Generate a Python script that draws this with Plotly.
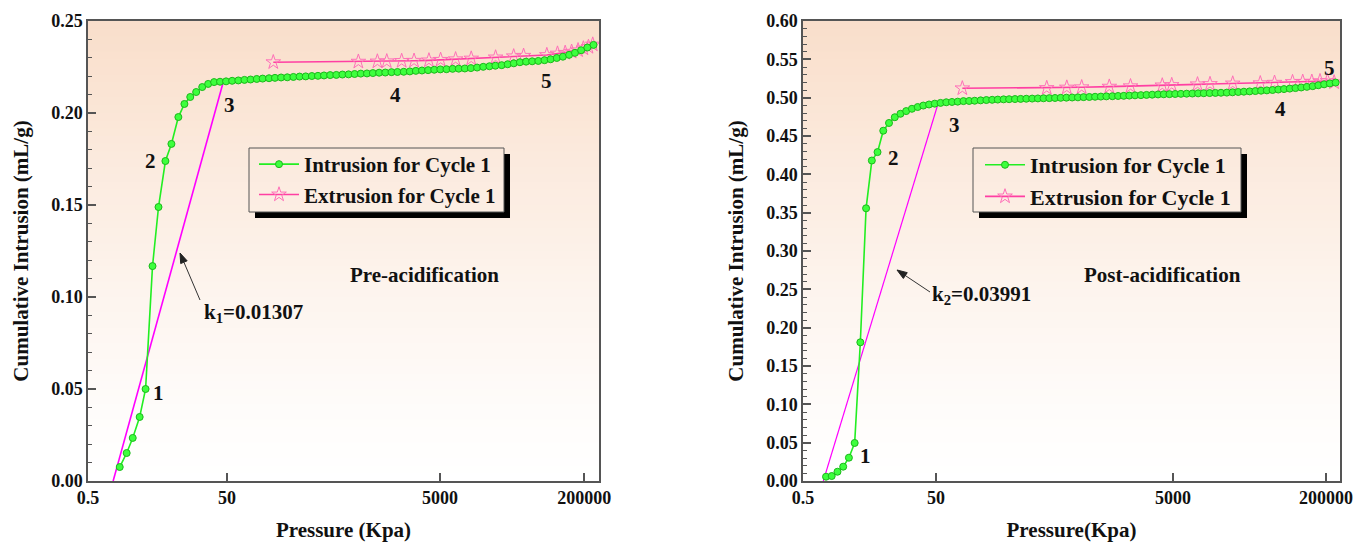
import numpy as np
import plotly.graph_objects as go

# ---------------- data: pressure (kPa) vs cumulative intrusion (mL/g) ----------------
# Pre-acidification, intrusion cycle 1
pre_intr_p = [1.43, 1.80, 2.20, 2.77, 3.37, 4.24, 5.17, 6.50, 7.93, 9.98, 12.2, 14.8, 18.0, 22.0,
              26.8, 32.6, 39.7, 48.5,
              55.9, 63.9, 72.9, 83.2, 95.1, 108, 124, 141, 161, 184, 210, 240, 274, 313, 357, 407,
              465, 531, 606, 692, 789, 901, 1030, 1170, 1340, 1530, 1750, 1990, 2280, 2600, 2960,
              3380, 3860, 4410,
              5030, 5890, 6890, 8060, 9420, 11000, 12900, 15100, 17700, 20600, 24200, 28200, 33000,
              38600, 45200, 52800, 61800, 72400, 84700, 99100, 116000, 136000, 158000, 185000,
              217000, 254000]
pre_intr_v = [0.0076, 0.0152, 0.0234, 0.0348, 0.0500, 0.1168, 0.1489, 0.1739, 0.1832, 0.1978,
              0.2049, 0.2087, 0.2114, 0.2141, 0.2158, 0.2168, 0.2170, 0.2172,
              0.2175, 0.2177, 0.2180, 0.2182, 0.2185, 0.2187, 0.2189, 0.2191, 0.2193, 0.2194,
              0.2196, 0.2198, 0.2199, 0.2201, 0.2202, 0.2204, 0.2206, 0.2207, 0.2209, 0.2210,
              0.2212, 0.2214, 0.2215, 0.2217, 0.2219, 0.2220, 0.2222, 0.2223, 0.2224, 0.2226,
              0.2229, 0.2231, 0.2233, 0.2235,
              0.2237, 0.2238, 0.2240, 0.2241, 0.2242, 0.2244, 0.2247, 0.2251, 0.2254, 0.2257,
              0.2260, 0.2265, 0.2270, 0.2276, 0.2279, 0.2281, 0.2283, 0.2287, 0.2292, 0.2299,
              0.2306, 0.2316, 0.2327, 0.2341, 0.2356, 0.2370]
# Pre-acidification, extrusion cycle 1
pre_extr_p = [136, 855, 1290, 1580, 2180, 2850, 3930, 5070, 7440, 11100, 20700, 32900, 42400,
              76900, 101000, 123000, 145000, 171000, 196000, 223000, 249000]
pre_extr_v = [0.2276, 0.2279, 0.2280, 0.2281, 0.2283, 0.2284, 0.2286, 0.2289, 0.2292, 0.2296,
              0.2302, 0.2308, 0.2311, 0.2315, 0.2323, 0.2327, 0.2333, 0.2341, 0.2351, 0.2359,
              0.2372]
# Tangent used for the slope k1
pre_tan_p = [1.15, 44.3]
pre_tan_v = [0.0, 0.217]

# Post-acidification, intrusion cycle 1
post_intr_p = [1.11, 1.35, 1.65, 2.01, 2.45, 2.99, 3.64, 4.44, 5.42, 6.60, 8.05, 9.82, 12.0, 14.6,
               17.8, 21.7, 26.5, 32.2, 39.3, 47.9,
               54.6, 61.0, 68.2, 76.2, 85.2, 95.2, 106, 119, 133, 149, 166, 186, 207, 232, 259,
               289, 324, 362, 404, 452, 505, 564, 630, 705, 788, 880, 984, 1100, 1230, 1370,
               1540, 1720, 1920, 2140, 2390, 2680, 2990, 3340, 3740, 4180, 4670,
               5270, 6050, 6950, 7980, 9160, 10500, 12100, 13900, 15900, 18300, 21000, 24100,
               27600, 31700, 36400, 41800, 48000, 55100, 63300, 72600, 83400, 95700, 110000,
               126000, 145000, 166000, 191000, 219000, 252000]
post_intr_v = [0.0056, 0.0065, 0.0121, 0.0187, 0.0304, 0.0496, 0.1809, 0.3557, 0.4180, 0.4290,
               0.4569, 0.4670, 0.4745, 0.4790, 0.4825, 0.4855, 0.4878, 0.4897, 0.4911, 0.4922,
               0.4932, 0.4940, 0.4944, 0.4948, 0.4955, 0.4957, 0.4960, 0.4965, 0.4969, 0.4972,
               0.4975, 0.4978, 0.4980, 0.4982, 0.4984, 0.4986, 0.4988, 0.4990, 0.4992, 0.4994,
               0.4996, 0.4998, 0.5000, 0.5002, 0.5004, 0.5007, 0.5009, 0.5012, 0.5014, 0.5017,
               0.5019, 0.5022, 0.5024, 0.5027, 0.5030, 0.5033, 0.5036, 0.5039, 0.5042, 0.5044,
               0.5046, 0.5048, 0.5050, 0.5052, 0.5054, 0.5056, 0.5058, 0.5060, 0.5062, 0.5064,
               0.5066, 0.5070, 0.5074, 0.5078, 0.5082, 0.5086, 0.5091, 0.5095, 0.5100, 0.5106,
               0.5112, 0.5118, 0.5125, 0.5133, 0.5141, 0.5150, 0.5162, 0.5174, 0.5186, 0.5197]
# Post-acidification, extrusion cycle 1
post_extr_p = [83.4, 430, 635, 848, 1450, 2190, 4060, 4880, 9030, 12200, 21100, 41000, 57800,
               89200, 114000, 142000, 173000, 207000, 243000]
post_extr_v = [0.5122, 0.5126, 0.5132, 0.5136, 0.5144, 0.5149, 0.5160, 0.5165, 0.5174, 0.5178,
               0.5185, 0.5188, 0.5195, 0.5204, 0.5207, 0.5208, 0.5215, 0.5217, 0.5200]
# Tangent used for the slope k2
post_tan_p = [1.01, 51.3]
post_tan_v = [0.0, 0.4891]

# Pressure axis labels and where each sits along its (segmented log) axis
tick_pressures = [0.5, 50, 5000, 200000]
tick_labels = ["0.5", "50", "5000", "200000"]
pre_tick_pos = [0.0, 0.272, 0.689, 0.971]
post_tick_pos = [0.0, 0.2477, 0.689, 0.974]

# ---------------- helpers ----------------
W, H = 1368, 544
FONT = "Liberation Serif, Times New Roman, serif"
INK = "#111111"
FRAME = "#555555"


def pressure_axis(p, pos):
    """Segmented log10 scale: linear in log10(P) between labelled pressures."""
    lp = np.log10(np.asarray(p, dtype=float))
    lt = np.log10(tick_pressures)
    u = np.interp(lp, lt, pos)
    hi = lp > lt[-1]
    u[hi] = pos[-1] + (lp[hi] - lt[-1]) * (pos[-1] - pos[-2]) / (lt[-1] - lt[-2])
    lo = lp < lt[0]
    u[lo] = pos[0] + (lp[lo] - lt[0]) * (pos[1] - pos[0]) / (lt[1] - lt[0])
    return u


def px(x):
    return x / W


def py(y):
    return 1 - y / H


# ---------------- figure ----------------
fig = go.Figure()

panels = [
    dict(xa="x", ya="y", legend="legend", pos=pre_tick_pos,
         intr=(pre_intr_p, pre_intr_v), extr=(pre_extr_p, pre_extr_v),
         tan=(pre_tan_p, pre_tan_v), tan_w=1.6),
    dict(xa="x2", ya="y2", legend="legend2", pos=post_tick_pos,
         intr=(post_intr_p, post_intr_v), extr=(post_extr_p, post_extr_v),
         tan=(post_tan_p, post_tan_v), tan_w=1.2),
]

for pn in panels:
    pos = pn["pos"]
    fig.add_trace(go.Scatter(
        x=pressure_axis(pn["tan"][0], pos), y=pn["tan"][1], mode="lines",
        line=dict(color="#ff00ff", width=pn["tan_w"]), showlegend=False,
        xaxis=pn["xa"], yaxis=pn["ya"]))
    fig.add_trace(go.Scatter(
        x=pressure_axis(pn["extr"][0], pos), y=pn["extr"][1], mode="lines+markers",
        name="Extrusion for Cycle 1",
        line=dict(color="#ff3fa3", width=1.6),
        marker=dict(symbol="star-open", size=11, color="#ff6fb8", line=dict(width=1)),
        xaxis=pn["xa"], yaxis=pn["ya"], legend=pn["legend"], legendrank=2))
    fig.add_trace(go.Scatter(
        x=pressure_axis(pn["intr"][0], pos), y=pn["intr"][1], mode="lines+markers",
        name="Intrusion for Cycle 1",
        line=dict(color="#22ee22", width=1.6),
        marker=dict(symbol="circle", size=7, color="#3dff3d",
                    line=dict(color="#1bb81b", width=1)),
        xaxis=pn["xa"], yaxis=pn["ya"], legend=pn["legend"], legendrank=1))

tickfont = dict(family=FONT, size=18, color=INK, weight="bold")
titlefont = dict(family=FONT, size=21, color=INK, weight="bold")

common_x = dict(range=[0, 1], ticktext=tick_labels, ticks="inside", ticklen=8,
                tickwidth=1.5, tickcolor=FRAME, showline=True, mirror=True, linecolor=FRAME,
                linewidth=1.5, showgrid=False, zeroline=False, tickfont=tickfont,
                automargin=False)
common_y = dict(dtick=0.05, tick0=0, tickformat=".2f", ticks="inside", ticklen=8, tickwidth=1.5,
                tickcolor=FRAME, showline=True, mirror=True, linecolor=FRAME, linewidth=1.5,
                showgrid=False, zeroline=False, tickfont=tickfont, automargin=False,
                minor=dict(dtick=0.01, ticks="inside", ticklen=4, tickcolor=FRAME, tickwidth=1),
                title=dict(text="Cumulative Intrusion (mL/g)", font=titlefont, standoff=17))

y0, y1 = py(481), py(21)
fig.update_layout(
    xaxis={**common_x, "domain": [px(88), px(599)], "tickvals": pre_tick_pos, "anchor": "y",
           "title": dict(text="Pressure (Kpa)", font=titlefont, standoff=15)},
    yaxis={**common_y, "domain": [y0, y1], "range": [0, 0.25], "anchor": "x"},
    xaxis2={**common_x, "domain": [px(803), px(1340)], "tickvals": post_tick_pos, "anchor": "y2",
            "title": dict(text="Pressure(Kpa)", font=titlefont, standoff=15)},
    yaxis2={**common_y, "domain": [y0, y1], "range": [0, 0.60], "anchor": "x2"},
)

# Legends: text and samples from plotly, frame and drop shadow drawn as shapes
legend_style = dict(bgcolor="rgba(0,0,0,0)", borderwidth=0,
                    xanchor="left", yanchor="top", tracegroupgap=0, itemwidth=40)
fig.update_layout(
    legend={**legend_style, "x": px(254), "y": py(144),
            "font": dict(family=FONT, size=21, color=INK, weight="bold")},
    legend2={**legend_style, "x": px(980), "y": py(144),
             "font": dict(family=FONT, size=22, color=INK, weight="bold")},
)

# ---------------- background gradient, legend frames, arrows ----------------
shapes = []
top_rgb = np.array([249, 222, 202])
white = np.array([255, 255, 255])
n_bands = 60
for xa, ya in (("x", "y"), ("x2", "y2")):
    for k in range(n_bands):
        t = (k + 0.5) / n_bands
        f = t ** 1.25
        c = white * (1 - f) + top_rgb * f
        shapes.append(dict(type="rect", xref=f"{xa} domain", yref=f"{ya} domain",
                           x0=0, x1=1, y0=k / n_bands, y1=(k + 1) / n_bands + 0.003,
                           fillcolor="rgb(%d,%d,%d)" % tuple(np.round(c)),
                           line=dict(width=0), layer="below"))

for bx0, bx1 in ((249, 504), (973, 1241)):
    by0, by1, off = 148, 212, 6
    shapes.append(dict(type="rect", xref="paper", yref="paper",
                       x0=px(bx1), x1=px(bx1 + off), y0=py(by1 + off), y1=py(by0 + off),
                       fillcolor="black", line=dict(width=0)))
    shapes.append(dict(type="rect", xref="paper", yref="paper",
                       x0=px(bx0 + off), x1=px(bx1 + off), y0=py(by1 + off), y1=py(by1),
                       fillcolor="black", line=dict(width=0)))
    shapes.append(dict(type="rect", xref="paper", yref="paper",
                       x0=px(bx0), x1=px(bx1), y0=py(by1), y1=py(by0),
                       fillcolor="rgba(0,0,0,0)", line=dict(color=FRAME, width=1)))

# Pointer arrows for the slope labels (tail -> head, in page pixels)
for (tx, ty), (hx, hy) in (((200, 300), (180, 253)), ((930, 292), (897, 270))):
    d = np.array([hx - tx, hy - ty], dtype=float)
    d /= np.hypot(*d)
    perp = np.array([-d[1], d[0]])
    base = np.array([hx, hy]) - 10 * d
    shapes.append(dict(type="line", xref="paper", yref="paper",
                       x0=px(tx), y0=py(ty), x1=px(base[0]), y1=py(base[1]),
                       line=dict(color="#333333", width=1)))
    a = base + 3.5 * perp
    b = base - 3.5 * perp
    path = "M %.5f %.5f L %.5f %.5f L %.5f %.5f Z" % (px(hx), py(hy), px(a[0]), py(a[1]),
                                                     px(b[0]), py(b[1]))
    shapes.append(dict(type="path", xref="paper", yref="paper", path=path,
                       fillcolor="#222222", line=dict(color="#222222", width=1)))
fig.update_layout(shapes=shapes)

# ---------------- annotations ----------------
lab = dict(family=FONT, size=21, color=INK, weight="bold")
notes = []
point_labels = [
    ("x", "y", [("1", 0.137, 0.191), ("2", 0.123, 0.696), ("3", 0.276, 0.817),
                ("4", 0.601, 0.839), ("5", 0.898, 0.870)]),
    ("x2", "y2", [("1", 0.117, 0.054), ("2", 0.168, 0.702), ("3", 0.283, 0.774),
                  ("4", 0.890, 0.809), ("5", 0.980, 0.898)]),
]
for xa, ya, items in point_labels:
    for txt, xx, yy in items:
        notes.append(dict(text=txt, x=xx, y=yy, xref=f"{xa} domain", yref=f"{ya} domain"))

notes += [
    dict(text="Pre-acidification", x=0.659, y=0.448, xref="x domain", yref="y domain"),
    dict(text="Post-acidification", x=0.669, y=0.448, xref="x2 domain", yref="y2 domain"),
    dict(text="k<sub>1</sub>=0.01307", x=0.323, y=0.365, xref="x domain", yref="y domain"),
    dict(text="k<sub>2</sub>=0.03991", x=0.333, y=0.404, xref="x2 domain", yref="y2 domain"),
]
for n in notes:
    n.update(showarrow=False, font=lab, xanchor="center", yanchor="middle")
fig.update_layout(annotations=notes)

fig.update_layout(
    width=W, height=H, autosize=False,
    margin=dict(l=0, r=0, t=0, b=0),
    paper_bgcolor="white", plot_bgcolor="white",
    font=dict(family=FONT, color=INK),
)

fig.write_html("out.html")
